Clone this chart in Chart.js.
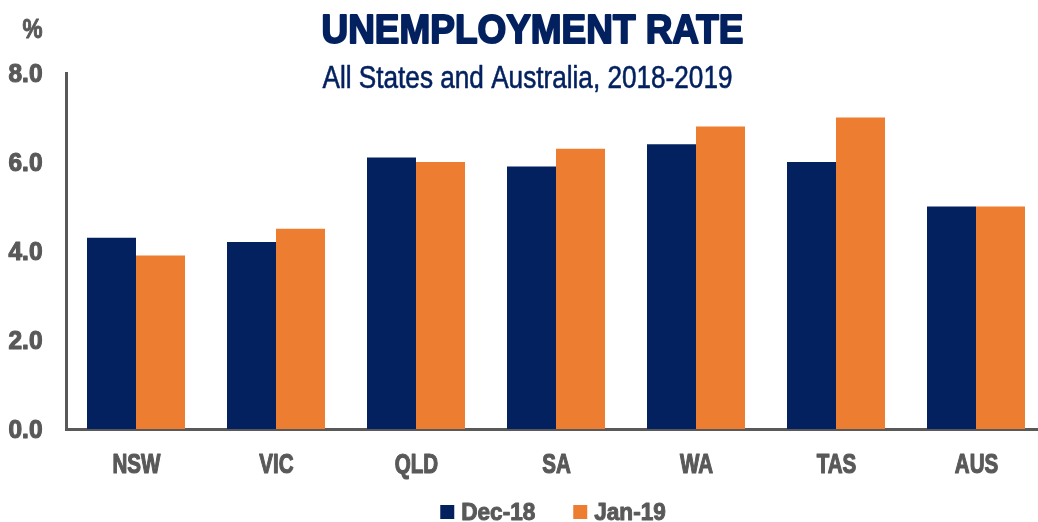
<!DOCTYPE html>
<html>
<head>
<meta charset="utf-8">
<script src="https://cdn.jsdelivr.net/npm/chart.js@4.4.1/dist/chart.umd.min.js"></script>
<style>
  html, body { margin: 0; padding: 0; background: #ffffff; overflow: hidden; }
  #wrap { width: 1038px; height: 522px; overflow: hidden; }
  canvas { display: block; }
</style>
</head>
<body>
<div id="wrap"><canvas id="chart" width="1060" height="522"></canvas></div>
<script>
// Unemployment rate by state, %
const categories = ['NSW', 'VIC', 'QLD', 'SA', 'WA', 'TAS', 'AUS'];
const dec18 = [4.3, 4.2, 6.1, 5.9, 6.4, 6.0, 5.0];
const jan19 = [3.9, 4.5, 6.0, 6.3, 6.8, 7.0, 5.0];
const seriesNames = ['Dec-18', 'Jan-19'];
const yTicks = [0, 2, 4, 6, 8];
const titleText = 'UNEMPLOYMENT RATE';
const subtitleText = 'All States and Australia, 2018-2019';
const unitText = '%';

const NAVY = '#03215F';
const ORANGE = '#ED7D31';
const GREY = '#595959';
const FONT = "'Liberation Sans', Arial, sans-serif";

// Draws text squeezed horizontally to a condensed look; an optional
// outline of the same colour thickens the strokes.
function condensedText(ctx, text, x, y, font, color, sx, align, weight) {
  ctx.save();
  ctx.font = font;
  ctx.fillStyle = color;
  ctx.strokeStyle = color;
  ctx.lineJoin = 'round';
  ctx.textAlign = align;
  ctx.textBaseline = 'alphabetic';
  ctx.translate(x, y);
  ctx.scale(sx, 1);
  ctx.fillText(text, 0, 0);
  if (weight) {
    ctx.lineWidth = weight;
    ctx.strokeText(text, 0, 0);
  }
  ctx.restore();
}
function squeezeFor(ctx, text, font, width) {
  ctx.save();
  ctx.font = font;
  const w = ctx.measureText(text).width;
  ctx.restore();
  return width / w;
}

// Headings, axis labels and legend in a condensed face
const textPlugin = {
  id: 'condensedText',
  afterDraw(chart) {
    const ctx = chart.ctx;
    const xs = chart.scales.x;
    const ys = chart.scales.y;

    const fTitle = 'bold 41px ' + FONT;
    condensedText(ctx, titleText, 532.5, 43, fTitle, NAVY,
      squeezeFor(ctx, titleText, fTitle, 422), 'center', 2);
    const fSub = '32px ' + FONT;
    condensedText(ctx, subtitleText, 527.5, 88, fSub, NAVY,
      squeezeFor(ctx, subtitleText, fSub, 410), 'center', 0.6);
    const fUnit = 'bold 28px ' + FONT;
    condensedText(ctx, unitText, 32.5, 38, fUnit, GREY,
      squeezeFor(ctx, unitText, fUnit, 20), 'center', 1);

    // value axis labels
    const fY = 'bold 26px ' + FONT;
    const sy = squeezeFor(ctx, '0.0', fY, 34);
    yTicks.forEach(v => {
      condensedText(ctx, v.toFixed(1), 42.5, ys.getPixelForValue(v) + 8.5, fY, GREY, sy, 'right', 1.2);
    });

    // category labels
    const fX = 'bold 27px ' + FONT;
    const sxx = squeezeFor(ctx, categories[0], fX, 48);
    categories.forEach((c, i) => {
      condensedText(ctx, c, xs.getPixelForTick(i) + 0.5, 473, fX, GREY, sxx, 'center', 1.2);
    });

    // legend
    const fL = 'bold 24px ' + FONT;
    const sl = squeezeFor(ctx, seriesNames[0], fL, 74);
    const box = 14, gap = 7, between = 38;
    ctx.save();
    ctx.font = fL;
    const widths = chart.data.datasets.map(d => ctx.measureText(d.label).width * sl);
    ctx.restore();
    const total = widths.reduce((a, w) => a + box + gap + w, 0) + between * (widths.length - 1);
    let x = 553 - total / 2;
    chart.data.datasets.forEach((d, i) => {
      ctx.fillStyle = d.backgroundColor;
      ctx.fillRect(x, 505, box, box);
      x += box + gap;
      condensedText(ctx, d.label, x, 520, fL, GREY, sl, 'left', 1);
      x += widths[i] + between;
    });
  }
};

new Chart(document.getElementById('chart'), {
  type: 'bar',
  data: {
    labels: categories,
    datasets: [
      { label: seriesNames[0], data: dec18, backgroundColor: NAVY, borderWidth: 0 },
      { label: seriesNames[1], data: jan19, backgroundColor: ORANGE, borderWidth: 0 }
    ]
  },
  options: {
    responsive: false,
    animation: false,
    layout: { padding: { top: 73, right: 14, bottom: 0, left: 0 } },
    datasets: { bar: { categoryPercentage: 0.7, barPercentage: 1.0 } },
    scales: {
      x: {
        grid: { display: false, drawTicks: false },
        border: { display: true, color: GREY, width: 3 },
        ticks: { display: false },
        afterFit(scale) { scale.height = 93; }
      },
      y: {
        min: 0, max: 8,
        grid: { display: false, drawTicks: false },
        border: { display: true, color: GREY, width: 3 },
        ticks: { display: false, stepSize: 2 },
        afterFit(scale) { scale.width = 66; }
      }
    },
    plugins: {
      legend: { display: false },
      title: { display: false },
      tooltip: { enabled: false }
    }
  },
  plugins: [textPlugin]
});
</script>
</body>
</html>
